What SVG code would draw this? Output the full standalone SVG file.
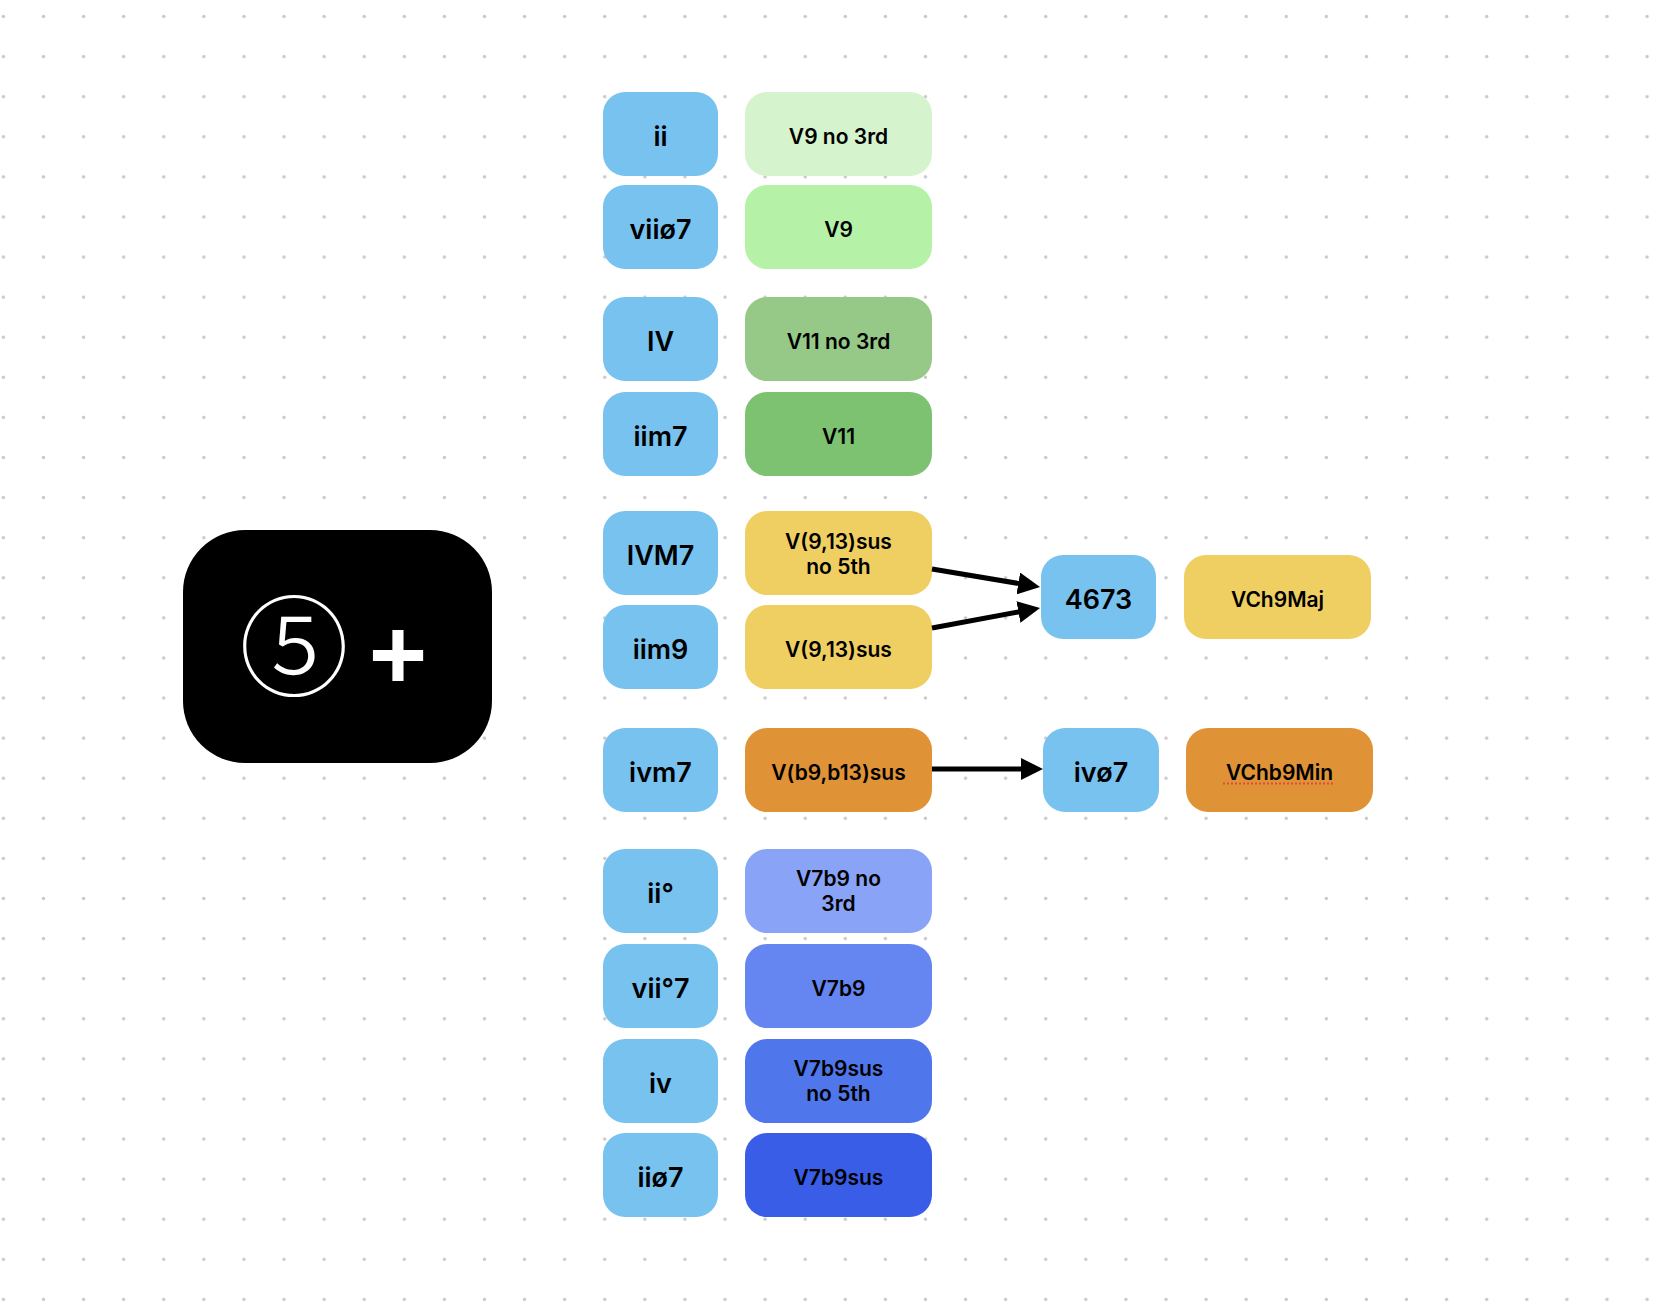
<svg xmlns="http://www.w3.org/2000/svg" width="1662" height="1316" viewBox="0 0 1662 1316">
<defs>
<pattern id="dots" patternUnits="userSpaceOnUse" x="-16.645" y="-3.545" width="40.09" height="40.09">
<circle cx="20.045" cy="20.045" r="1.7" fill="#c8c8c8"/>
</pattern>
<marker id="ah" markerUnits="userSpaceOnUse" viewBox="0 0 22 22" markerWidth="22" markerHeight="22" refX="1" refY="11" orient="auto">
<path d="M0,0 L22,11 L0,22 z" fill="#000"/>
</marker>
<style>
.n rect{rx:22px;ry:22px}
.b{fill:#78C2F0}
.lt{font-family:Inter,"Liberation Sans",sans-serif;font-weight:600;font-size:27px;fill:#000;text-anchor:middle}
.rt{font-family:Inter,"Liberation Sans",sans-serif;font-weight:600;font-size:21px;fill:#000;text-anchor:middle}
.c line{stroke:#000;stroke-width:5;marker-end:url(#ah)}
</style>
</defs>
<rect width="1662" height="1316" fill="#fff"/>
<rect width="1662" height="1316" fill="url(#dots)"/>

<g id="big">
<rect x="183" y="530" width="309" height="233" rx="62" ry="62" fill="#000"/>
<text x="294" y="688" font-family="'Noto Sans CJK JP',sans-serif" font-weight="300" font-size="110" fill="#fff" text-anchor="middle">⑤</text>
<text x="398" y="689" font-family="'Liberation Sans',Arial,sans-serif" font-weight="bold" font-size="100" fill="#fff" text-anchor="middle">+</text>
</g>

<g id="n-ii" class="n"><rect class="b" x="603" y="92" width="115" height="84"/><text class="lt" x="660.5" y="146">ii</text></g>
<g id="n-v9no3" class="n"><rect fill="#D5F3CC" x="745" y="92" width="187" height="84"/><text class="rt" x="838.5" y="143.5">V9 no 3rd</text></g>
<g id="n-vii07" class="n"><rect class="b" x="603" y="185" width="115" height="84"/><text class="lt" x="660.5" y="239">viiø7</text></g>
<g id="n-v9" class="n"><rect fill="#B5F1A7" x="745" y="185" width="187" height="84"/><text class="rt" x="838.5" y="236.5">V9</text></g>

<g id="n-IV" class="n"><rect class="b" x="603" y="297" width="115" height="84"/><text class="lt" x="660.5" y="351">IV</text></g>
<g id="n-v11no3" class="n"><rect fill="#96C888" x="745" y="297" width="187" height="84"/><text class="rt" x="838.5" y="348.5">V11 no 3rd</text></g>
<g id="n-iim7" class="n"><rect class="b" x="603" y="392" width="115" height="84"/><text class="lt" x="660.5" y="446">iim7</text></g>
<g id="n-v11" class="n"><rect fill="#7DC271" x="745" y="392" width="187" height="84"/><text class="rt" x="838.5" y="443.5">V11</text></g>

<g id="n-IVM7" class="n"><rect class="b" x="603" y="511" width="115" height="84"/><text class="lt" x="660.5" y="565">IVM7</text></g>
<g id="n-v913no5" class="n"><rect fill="#EFCF61" x="745" y="511" width="187" height="84"/><text class="rt" x="838.5" y="548.5">V(9,13)sus</text><text class="rt" x="838.5" y="573.5">no 5th</text></g>
<g id="n-iim9" class="n"><rect class="b" x="603" y="605" width="115" height="84"/><text class="lt" x="660.5" y="659">iim9</text></g>
<g id="n-v913" class="n"><rect fill="#EFCF61" x="745" y="605" width="187" height="84"/><text class="rt" x="838.5" y="656.5">V(9,13)sus</text></g>
<g id="n-4673" class="n"><rect class="b" x="1041" y="555" width="115" height="84"/><text class="lt" x="1098.5" y="609">4673</text></g>
<g id="n-vch9maj" class="n"><rect fill="#EFCF61" x="1184" y="555" width="187" height="84"/><text class="rt" x="1277.5" y="606.5">VCh9Maj</text></g>

<g id="n-ivm7" class="n"><rect class="b" x="603" y="728" width="115" height="84"/><text class="lt" x="660.5" y="782">ivm7</text></g>
<g id="n-vb9b13" class="n"><rect fill="#E09236" x="745" y="728" width="187" height="84"/><text class="rt" x="838.5" y="779.5">V(b9,b13)sus</text></g>
<g id="n-iv07" class="n"><rect class="b" x="1043" y="728" width="116" height="84"/><text class="lt" x="1101" y="782">ivø7</text></g>
<g id="n-vchb9min" class="n"><rect fill="#E09236" x="1186" y="728" width="187" height="84"/><text class="rt" x="1279.5" y="779.5">VChb9Min</text><line x1="1223" y1="783.5" x2="1335" y2="783.5" stroke="#E2483C" stroke-width="2" stroke-dasharray="2 2"/></g>

<g id="n-iio" class="n"><rect class="b" x="603" y="849" width="115" height="84"/><text class="lt" x="660.5" y="903">ii°</text></g>
<g id="n-v7b9no3" class="n"><rect fill="#89A3F6" x="745" y="849" width="187" height="84"/><text class="rt" x="838.5" y="886">V7b9 no</text><text class="rt" x="838.5" y="911">3rd</text></g>
<g id="n-viio7" class="n"><rect class="b" x="603" y="944" width="115" height="84"/><text class="lt" x="660.5" y="998">vii°7</text></g>
<g id="n-v7b9" class="n"><rect fill="#6585F1" x="745" y="944" width="187" height="84"/><text class="rt" x="838.5" y="995.5">V7b9</text></g>
<g id="n-iv" class="n"><rect class="b" x="603" y="1039" width="115" height="84"/><text class="lt" x="660.5" y="1093">iv</text></g>
<g id="n-v7b9susno5" class="n"><rect fill="#4F77EB" x="745" y="1039" width="187" height="84"/><text class="rt" x="838.5" y="1076">V7b9sus</text><text class="rt" x="838.5" y="1101">no 5th</text></g>
<g id="n-iio7" class="n"><rect class="b" x="603" y="1133" width="115" height="84"/><text class="lt" x="660.5" y="1187">iiø7</text></g>
<g id="n-v7b9sus" class="n"><rect fill="#3A5DE7" x="745" y="1133" width="187" height="84"/><text class="rt" x="838.5" y="1184.5">V7b9sus</text></g>

<g id="connectors" class="c">
<line x1="932" y1="569" x2="1019.3" y2="583.6"/>
<line x1="932" y1="628" x2="1019.4" y2="611.8"/>
<line x1="932" y1="769" x2="1022" y2="769"/>
</g>
</svg>
